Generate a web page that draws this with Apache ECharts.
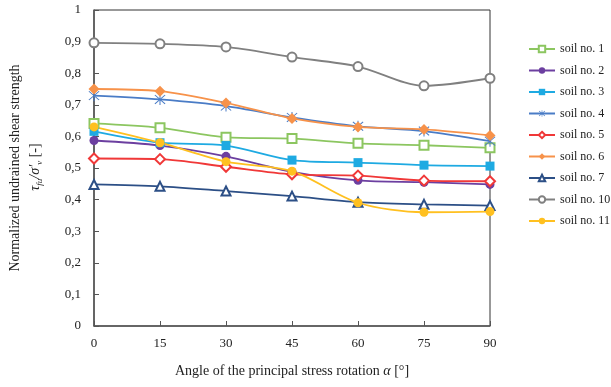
<!DOCTYPE html>
<html>
<head>
<meta charset="utf-8">
<script src="https://cdn.jsdelivr.net/npm/echarts@6/dist/echarts.min.js"></script>
<style>
  html, body { margin: 0; padding: 0; background: #fff; }
  #chart { width: 611px; height: 387px; }
</style>
</head>
<body>
<div id="chart"></div>
<script>
  // angle of principal stress rotation
  var angles = [0, 15, 30, 45, 60, 75, 90];
  var yTicks = [0, 0.1, 0.2, 0.3, 0.4, 0.5, 0.6, 0.7, 0.8, 0.9, 1];

  var soil1 = [0.641, 0.627, 0.597, 0.593, 0.578, 0.572, 0.564];
  var soil2 = [0.587, 0.571, 0.537, 0.488, 0.461, 0.455, 0.448];
  var soil3 = [0.616, 0.580, 0.571, 0.525, 0.517, 0.509, 0.506];
  var soil4 = [0.729, 0.717, 0.696, 0.660, 0.632, 0.617, 0.585];
  var soil5 = [0.530, 0.528, 0.504, 0.480, 0.476, 0.460, 0.458];
  var soil6 = [0.750, 0.743, 0.706, 0.657, 0.630, 0.622, 0.603];
  var soil7 = [0.448, 0.442, 0.427, 0.411, 0.392, 0.385, 0.381];
  var soil10 = [0.896, 0.893, 0.883, 0.851, 0.821, 0.760, 0.784];
  var soil11 = [0.630, 0.580, 0.520, 0.490, 0.390, 0.360, 0.362];

  var FONT = '"Liberation Serif", "DejaVu Serif", serif';
  var starPath = 'path://M-0.8,-10L0.8,-10L0.8,10L-0.8,10Z M-7.4,-8.6L8.6,7.4L7.4,8.6L-8.6,-7.4Z M7.4,-8.6L-8.6,7.4L-7.4,8.6L8.6,-7.4Z';

  function pairs(vals) {
    var out = [];
    for (var i = 0; i < angles.length; i++) out.push([angles[i], vals[i]]);
    return out;
  }

  function mk(name, vals, color, symbol, size, empty) {
    return {
      name: name,
      type: 'line',
      smooth: 0.3,
      data: pairs(vals),
      symbol: symbol,
      symbolSize: size,
      lineStyle: { color: color, width: 1.8 },
      itemStyle: empty ? { color: color, borderColor: color, borderWidth: 1.3 } : { color: color },
      emphasis: { disabled: true }
    };
  }

  var myChart = echarts.init(document.getElementById('chart'));
  var options = {
    animation: false,
    backgroundColor: '#fff',
    textStyle: { fontFamily: FONT },
    grid: {
      left: 94, right: 121, top: 10, bottom: 61,
      show: true, borderColor: '#333', borderWidth: 1
    },
    legend: {
      orient: 'vertical',
      left: 528, top: 43,
      padding: 0,
      itemWidth: 26, itemHeight: 8,
      itemGap: 9.5,
      textStyle: { fontFamily: FONT, fontSize: 12, color: '#222' },
      data: ['soil no. 1', 'soil no. 2', 'soil no. 3', 'soil no. 4', 'soil no. 5', 'soil no. 6', 'soil no. 7', 'soil no. 10', 'soil no. 11']
    },
    xAxis: {
      type: 'value',
      min: 0, max: 90, interval: 15,
      name: 'Angle of the principal stress rotation {a|α} [°]',
      nameLocation: 'middle',
      nameGap: 38,
      nameTextStyle: {
        fontFamily: FONT, fontSize: 14, color: '#222',
        rich: { a: { fontFamily: FONT, fontSize: 14, fontStyle: 'italic', color: '#222' } }
      },
      axisLine: { lineStyle: { color: '#555', width: 1.5 } },
      axisTick: { inside: true, length: 5, lineStyle: { color: '#555' } },
      axisLabel: { fontSize: 13, color: '#222', margin: 11 },
      splitLine: { show: false }
    },
    yAxis: {
      type: 'value',
      min: 0, max: 1, interval: 0.1,
      axisLine: { show: true, lineStyle: { color: '#555', width: 1.5 } },
      axisTick: { show: true, inside: true, length: 5, lineStyle: { color: '#555' } },
      axisLabel: {
        fontSize: 13, color: '#222', margin: 13,
        formatter: function (v) {
          var idx = yTicks.indexOf(Math.round(v * 10) / 10);
          var t = idx >= 0 ? yTicks[idx] : v;
          return String(Math.round(t * 10) / 10).replace('.', ',');
        }
      },
      splitLine: { show: false }
    },
    graphic: [
      {
        type: 'text', x: 15, y: 168, rotation: Math.PI / 2,
        style: {
          text: 'Normalized undrained shear strength',
          fontFamily: FONT, fontSize: 14, fill: '#222',
          align: 'center', verticalAlign: 'middle'
        }
      },
      {
        type: 'text', x: 35, y: 167, rotation: Math.PI / 2,
        style: {
          text: '{i|τ}{s|fu}{i|/σ′}{s|v}{n| [-]}',
          align: 'center', verticalAlign: 'middle',
          rich: {
            i: { fontFamily: FONT, fontSize: 14, fontStyle: 'italic', fill: '#222', lineHeight: 18, verticalAlign: 'middle' },
            n: { fontFamily: FONT, fontSize: 14, fill: '#222', lineHeight: 18, verticalAlign: 'middle' },
            s: { fontFamily: FONT, fontSize: 9, fontStyle: 'italic', fill: '#222', lineHeight: 18, verticalAlign: 'bottom' }
          }
        }
      }
    ],
    series: [
      mk('soil no. 1', soil1, '#8cc660', 'emptyRect', 9, true),
      mk('soil no. 2', soil2, '#6c3fa0', 'circle', 9, false),
      mk('soil no. 3', soil3, '#1eaae2', 'rect', 9, false),
      mk('soil no. 4', soil4, '#4a7cc6', starPath, 11, false),
      mk('soil no. 5', soil5, '#f03838', 'emptyDiamond', 10, true),
      mk('soil no. 6', soil6, '#f7924a', 'diamond', 11, false),
      mk('soil no. 7', soil7, '#2c4f86', 'emptyTriangle', 9, true),
      mk('soil no. 10', soil10, '#808080', 'emptyCircle', 9, true),
      mk('soil no. 11', soil11, '#ffc020', 'circle', 9, false)
    ]
  };
  myChart.setOption(options, true);
  window.addEventListener('resize', function () {
    myChart.resize();
  });
</script>
</body>
</html>
